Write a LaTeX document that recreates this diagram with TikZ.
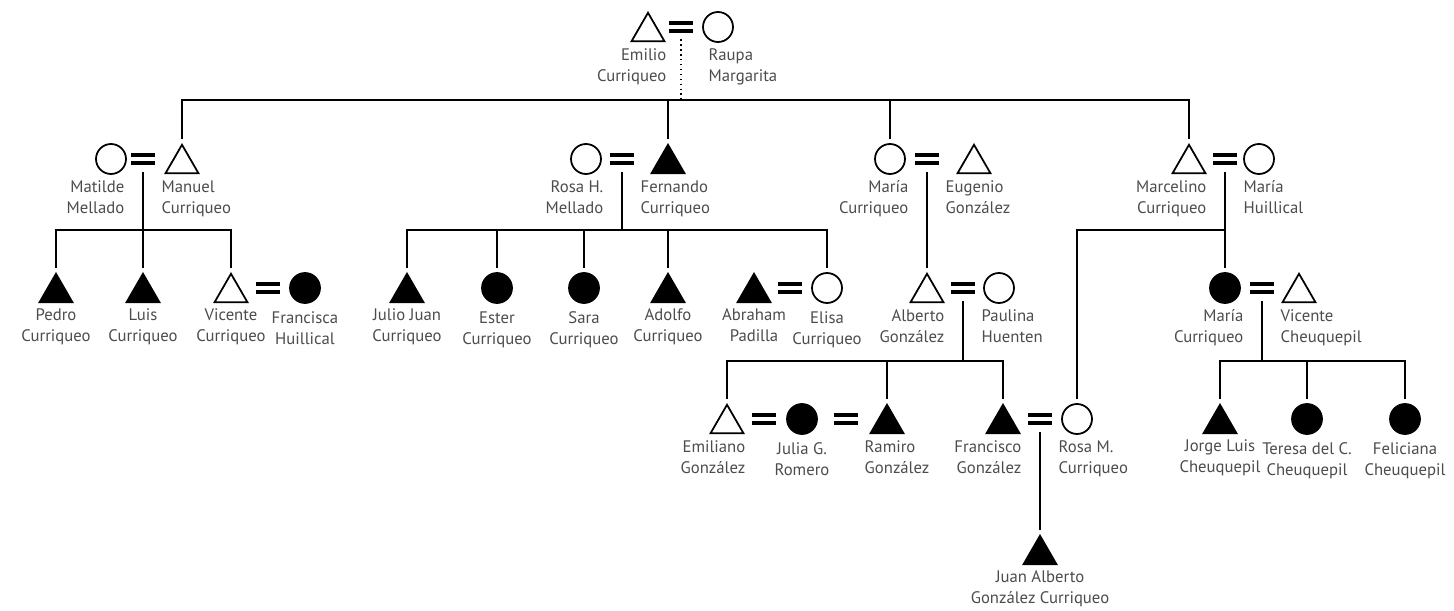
\documentclass[tikz,border=0pt]{standalone}
\usepackage{fontspec}
\setmainfont{PT Sans}
\usetikzlibrary{positioning,shapes.geometric}
\tikzset{
  male/.style={regular polygon, regular polygon sides=3, draw, line width=1pt,
    minimum size=0.76cm, inner sep=0pt, outer sep=1.6pt, yshift=-0.095cm, fill=white},
  maleD/.style={male, fill=black},
  fem/.style={circle, draw, line width=1pt, minimum size=0.6cm, inner sep=0pt,
    outer sep=3pt, fill=white},
  femD/.style={fem, fill=black},
  marr/.style={minimum width=0.48cm, minimum height=0.28cm, inner sep=0pt,
    path picture={\draw[line width=1.9pt]
      ([yshift=0.08cm]path picture bounding box.west) -- ([yshift=0.08cm]path picture bounding box.east)
      ([yshift=-0.08cm]path picture bounding box.west) -- ([yshift=-0.08cm]path picture bounding box.east);}},
  kin/.style={line width=0.8pt},
  desc/.style={kin, shorten <=0.12cm},
  lbl/.style={font=\fontsize{9.5}{12}\selectfont, text=black!70, inner sep=0pt, align=center},
  lblL/.style={lbl, align=right},
  lblR/.style={lbl, align=left}
}
\begin{document}
\begin{tikzpicture}[x=0.02cm, y=-0.02cm]
  \useasboundingbox (0,0) rectangle (1454,611);

  % first generation
  \node[male] (emilio) at (648,27) {};
  \node[marr] (eq0) at (681,27) {};
  \node[fem] (raupa) at (718,27) {};
  \node[lblL, below left=0.28cm and 0.04cm of eq0] (lemilio) {Emilio\\Curriqueo};
  \node[lblR, below right=0.28cm and 0.3cm of eq0] (lraupa) {Raupa\\Margarita};
  \coordinate (top) at (681,100);

  % second generation
  \node[fem] (matilde) at (111,159) {};
  \node[marr] (eqa) at (143,159) {};
  \node[male] (manuel) at (182,159) {};
  \node[fem] (rosah) at (586,159) {};
  \node[marr] (eqb) at (622,159) {};
  \node[maleD] (fernando) at (668,159) {};
  \node[fem] (mariac) at (890,159) {};
  \node[marr] (eqc) at (927,159) {};
  \node[male] (eugenio) at (974,159) {};
  \node[male] (marcelino) at (1189,159) {};
  \node[marr] (eqd) at (1225,159) {};
  \node[fem] (mariah) at (1259,159) {};

  \node[lblL, below left=0.28cm and 0.12cm of eqa] (lmatilde) {Matilde\\Mellado};
  \node[lblR, below right=0.28cm and 0.12cm of eqa] (lmanuel) {Manuel\\Curriqueo};
  \node[lblL, below left=0.28cm and 0.12cm of eqb] (lrosah) {Rosa H.\\Mellado};
  \node[lblR, below right=0.28cm and 0.12cm of eqb] (lfernando) {Fernando\\Curriqueo};
  \node[lblL, below left=0.28cm and 0.12cm of eqc] (lmariac) {María\\Curriqueo};
  \node[lblR, below right=0.28cm and 0.12cm of eqc] (leugenio) {Eugenio\\González};
  \node[lblL, below left=0.28cm and 0.12cm of eqd] (lmarcelino) {Marcelino\\Curriqueo};
  \node[lblR, below right=0.28cm and 0.12cm of eqd] (lmariah) {María\\Huillical};

  \draw[kin, dotted, shorten <=1mm] (eq0.south) -- (top);
  \draw[kin] (manuel.north) |- (top) -| (marcelino.north);
  \draw[kin] (fernando.north) -- (fernando.north |- top);
  \draw[kin] (mariac.north) -- (mariac.north |- top);

  % third generation
  \node[maleD] (pedro) at (56,288) {};
  \node[maleD] (luis) at (143,288) {};
  \node[male] (vicente) at (231,288) {};
  \node[marr] (eqe) at (268,288) {};
  \node[femD] (francisca) at (305,288) {};
  \node[maleD] (julio) at (407,288) {};
  \node[femD] (ester) at (497,288) {};
  \node[femD] (sara) at (584,288) {};
  \node[maleD] (adolfo) at (668,288) {};
  \node[maleD] (abraham) at (754,288) {};
  \node[marr] (eqf) at (790,288) {};
  \node[fem] (elisa) at (827,288) {};
  \node[male] (alberto) at (927,288) {};
  \node[marr] (eqg) at (963,288) {};
  \node[fem] (paulina) at (999,288) {};
  \node[femD] (mariacu) at (1225,288) {};
  \node[marr] (eqh) at (1262,288) {};
  \node[male] (vicentec) at (1299,288) {};

  \node[lbl, below=0.06cm of pedro] (lpedro) {Pedro\\Curriqueo};
  \node[lbl, below=0.06cm of luis] (lluis) {Luis\\Curriqueo};
  \node[lbl, below=0.06cm of vicente] (lvicente) {Vicente\\Curriqueo};
  \node[lbl, below=0.06cm of francisca] (lfrancisca) {Francisca\\Huillical};
  \node[lbl, below=0.06cm of julio] (ljulio) {Julio Juan\\Curriqueo};
  \node[lbl, below=0.06cm of ester] (lester) {Ester\\Curriqueo};
  \node[lbl, below=0.06cm of sara] (lsara) {Sara\\Curriqueo};
  \node[lbl, below=0.06cm of adolfo] (ladolfo) {Adolfo\\Curriqueo};
  \node[lbl, below=0.06cm of abraham] (labraham) {Abraham\\Padilla};
  \node[lbl, below=0.06cm of elisa] (lelisa) {Elisa\\Curriqueo};
  \node[lblL, below left=0.28cm and 0.12cm of eqg] (lalberto) {Alberto\\González};
  \node[lblR, below right=0.28cm and 0.12cm of eqg] (lpaulina) {Paulina\\Huenten};
  \node[lblL, below left=0.28cm and 0.12cm of eqh] (lmariacu) {María\\Curriqueo};
  \node[lblR, below right=0.28cm and 0.12cm of eqh] (lvicentec) {Vicente\\Cheuquepil};

  \coordinate (ba) at (143,230);
  \coordinate (bb) at (622,230);
  \coordinate (bd) at (1225,230);
  \draw[desc] (eqa.south) -- (ba);
  \draw[kin] (pedro.north) |- (ba) -| (vicente.north);
  \draw[kin] (luis.north) -- (ba);
  \draw[desc] (eqb.south) -- (bb);
  \draw[kin] (julio.north) |- (bb) -| (elisa.north);
  \draw[kin] (ester.north) -- (ester.north |- bb);
  \draw[kin] (sara.north) -- (sara.north |- bb);
  \draw[kin] (adolfo.north) -- (adolfo.north |- bb);
  \draw[desc] (eqc.south) -- (alberto.north);
  \draw[desc] (eqd.south) -- (mariacu.north);

  % fourth generation
  \node[male] (emiliano) at (727,419) {};
  \node[marr] (eqi) at (764,419) {};
  \node[femD] (julia) at (802,419) {};
  \node[marr] (eqj) at (846,419) {};
  \node[maleD] (ramiro) at (887,419) {};
  \node[maleD] (francisco) at (1003,419) {};
  \node[marr] (eqk) at (1040,419) {};
  \node[fem] (rosam) at (1077,419) {};
  \node[maleD] (jorge) at (1220,419) {};
  \node[femD] (teresa) at (1307,419) {};
  \node[femD] (feliciana) at (1405,419) {};

  \node[lblL, below left=0.28cm and 0.12cm of eqi] (lemiliano) {Emiliano\\González};
  \node[lbl, below=0.06cm of julia] (ljulia) {Julia G.\\Romero};
  \node[lblR, below right=0.28cm and 0.12cm of eqj] (lramiro) {Ramiro\\González};
  \node[lblL, below left=0.28cm and 0.12cm of eqk] (lfrancisco) {Francisco\\González};
  \node[lblR, below right=0.28cm and 0.12cm of eqk] (lrosam) {Rosa M.\\Curriqueo};
  \node[lbl, below=0.06cm of jorge] (ljorge) {Jorge Luis\\Cheuquepil};
  \node[lbl, below=0.06cm of teresa] (lteresa) {Teresa del C.\\Cheuquepil};
  \node[lbl, below=0.06cm of feliciana] (lfeliciana) {Feliciana\\Cheuquepil};

  \coordinate (bg) at (963,361);
  \coordinate (bh) at (1262,361);
  \draw[kin] (rosam.north) |- (bd);
  \draw[desc] (eqg.south) -- (bg);
  \draw[kin] (emiliano.north) |- (bg) -| (francisco.north);
  \draw[kin] (ramiro.north) -- (ramiro.north |- bg);
  \draw[desc] (eqh.south) -- (bh);
  \draw[kin] (jorge.north) |- (bh) -| (feliciana.north);
  \draw[kin] (teresa.north) -- (teresa.north |- bh);

  % fifth generation
  \node[maleD] (juan) at (1040,550) {};
  \node[lbl, below=0.06cm of juan] (ljuan) {Juan Alberto\\González Curriqueo};
  \draw[desc] (eqk.south) -- (juan.north);
\end{tikzpicture}
\end{document}
